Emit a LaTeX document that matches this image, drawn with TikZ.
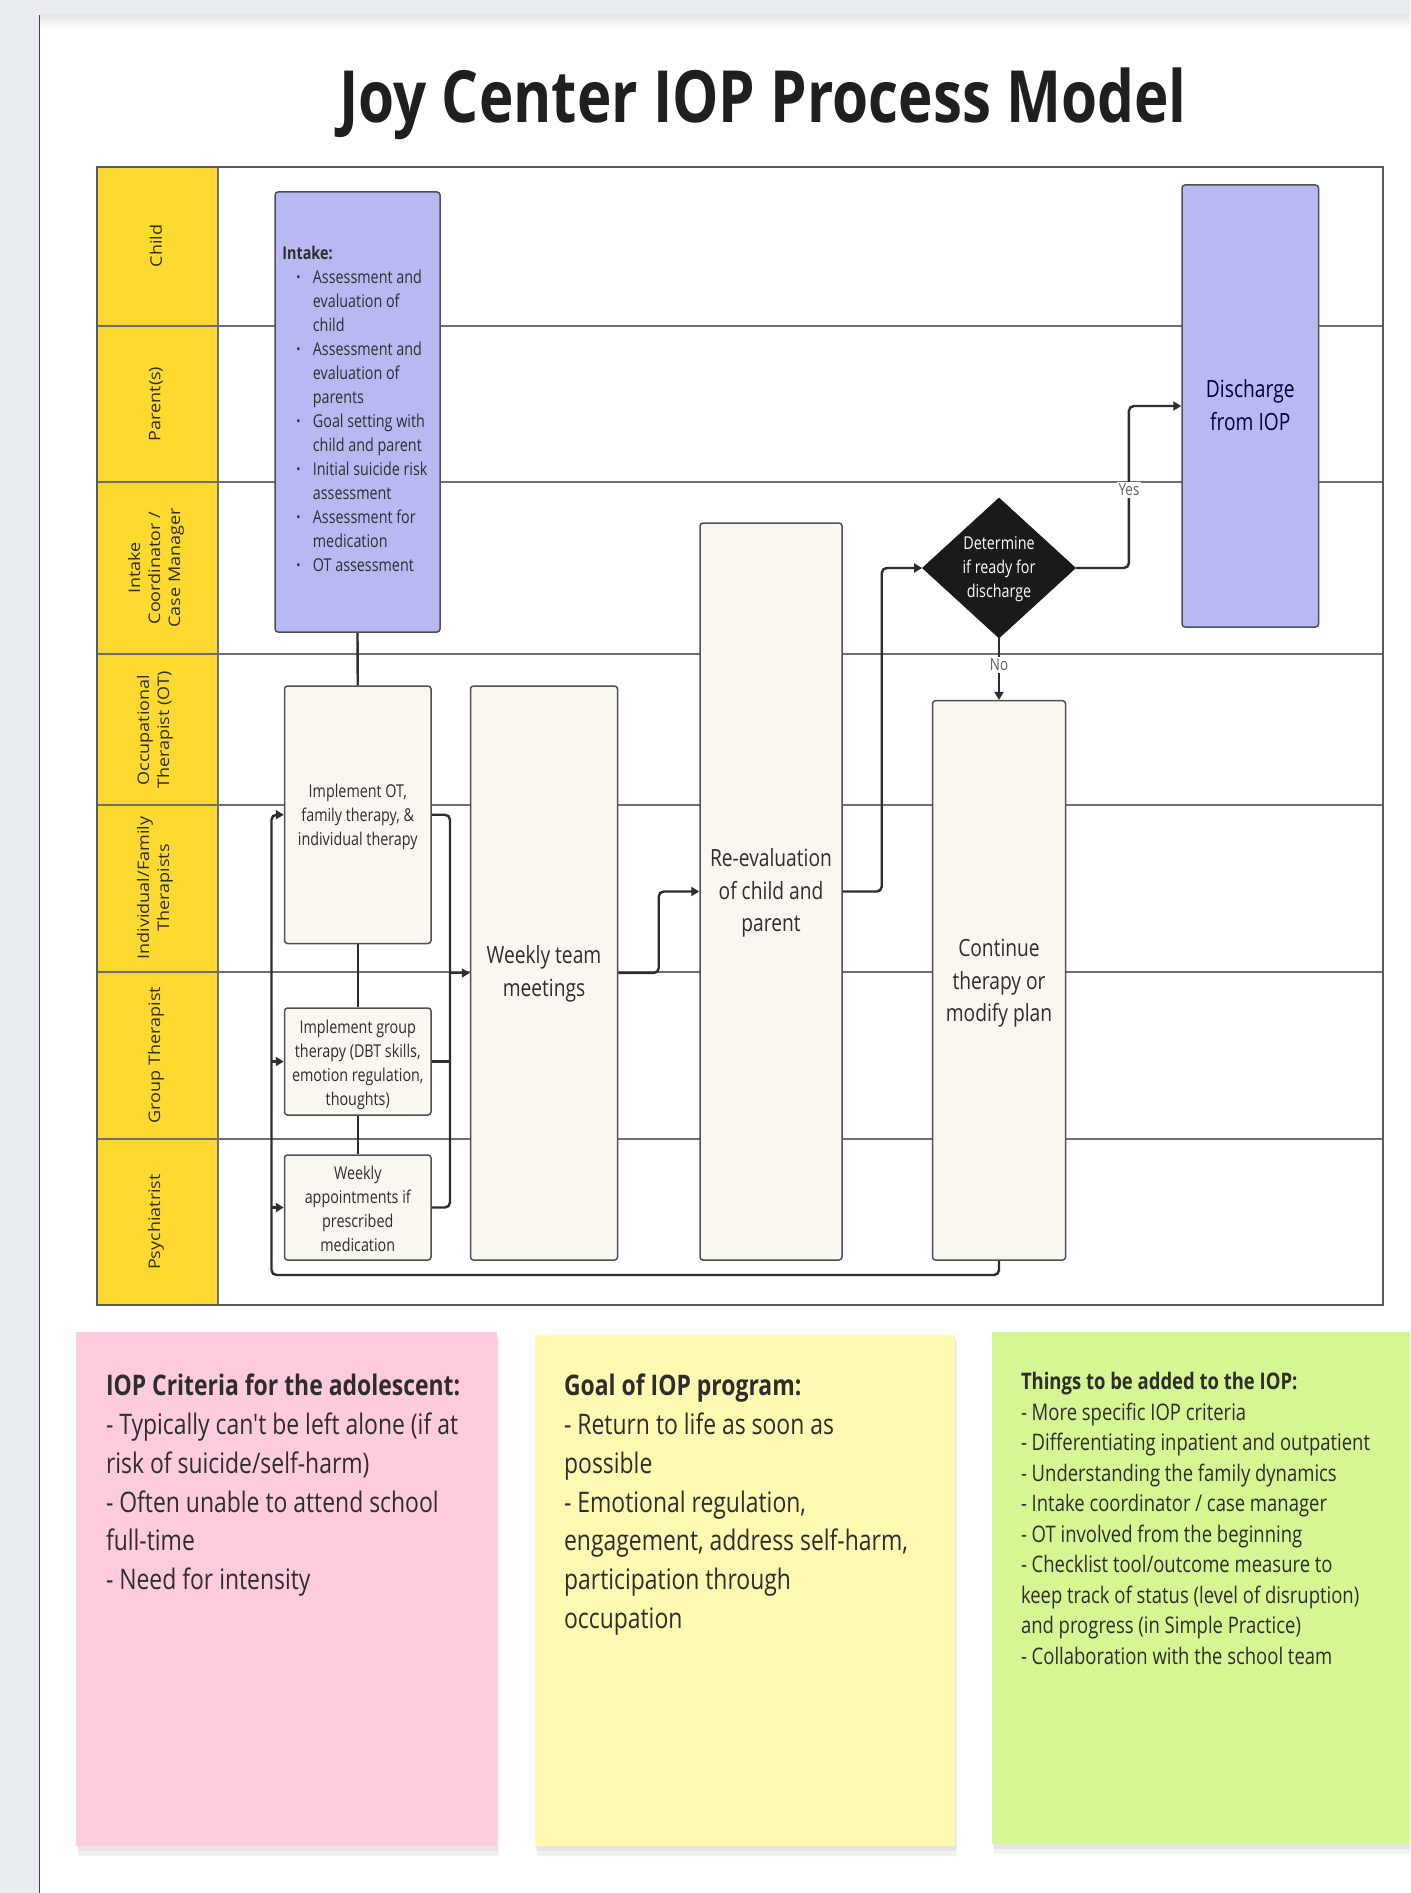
\documentclass[tikz,border=0pt]{standalone}
\usepackage{fontspec}
\usepackage{graphicx}
\setmainfont{Open Sans}[FakeStretch=0.81, Ligatures=TeXOff]
\newfontfamily\lanefont{Open Sans}
\usetikzlibrary{arrows.meta,fit,shapes.geometric}
\definecolor{bgstrip}{RGB}{233,236,241}
\definecolor{canvasedge}{RGB}{70,70,70}
\definecolor{laneyellow}{RGB}{254,218,48}
\definecolor{laneline}{RGB}{110,110,110}
\definecolor{frameline}{RGB}{90,90,90}
\definecolor{lavender}{RGB}{184,185,243}
\definecolor{cream}{RGB}{250,246,240}
\definecolor{boxline}{RGB}{80,80,80}
\definecolor{connc}{RGB}{45,45,45}
\definecolor{diablack}{RGB}{26,26,26}
\definecolor{textc}{RGB}{45,45,45}
\definecolor{lblgray}{RGB}{95,95,95}
\definecolor{notepink}{RGB}{255,204,219}
\definecolor{noteyellow}{RGB}{255,249,177}
\definecolor{notegreen}{RGB}{213,246,146}
\newcommand{\fsmall}{\fontsize{8.85pt}{12pt}\selectfont}
\newcommand{\fbig}{\fontsize{11.85pt}{16.25pt}\selectfont}
\newcommand{\fnote}{\fontsize{14.15pt}{19.45pt}\selectfont}
\newcommand{\fgreen}{\fontsize{11.4pt}{15.23pt}\selectfont}
\newcommand{\flane}{\lanefont\fontsize{9pt}{11.3pt}\selectfont}
\newcommand{\flabel}{\fontsize{8.3pt}{10pt}\selectfont}
\newcommand{\ftitle}{\fontsize{36pt}{40pt}\selectfont\bfseries}
\newcommand{\bul}{\makebox[15.25pt][l]{\hspace{7pt}\textbf{\textperiodcentered}}}
\newcommand{\ind}{\makebox[15.25pt]{}}
\begin{document}
\begin{tikzpicture}[x=0.5pt,y=-0.5pt,
  box/.style={draw=boxline, line width=0.75pt, rounded corners=1.5pt, inner sep=0pt},
  procbox/.style={box, fill=cream},
  keybox/.style={box, fill=lavender},
  conn/.style={draw=connc, line width=1.2pt, rounded corners=2.5pt},
  arr/.style={-{Triangle[length=4pt,width=4.5pt]}},
  lane/.style={draw=laneline, line width=1pt},
  lbl/.style={fill=white, inner sep=1pt, text=lblgray, font=\flabel},
  txt/.style={inner sep=0pt, text=textc},
  lanetxt/.style={inner sep=0pt, text=textc, rotate=90},
  notebox/.style={inner sep=0pt, draw=none},
]
\useasboundingbox (0,0) rectangle (1410,1893);
% page background
\fill[bgstrip] (0,0) rectangle (1410,1893);
\fill[white] (40,15) rectangle (1410,1893);
\shade[top color=black!10, bottom color=white] (40,15) rectangle (1410,30);
\draw[canvasedge, line width=0.6pt] (39.5,15) -- (39.5,1893);

% title
\node[txt, anchor=base, text=black!88] (title) at (763,123) {\ftitle Joy Center IOP Process Model};

% swimlanes
\fill[white] (96.7,166.7) rectangle (1382.5,1305);
\fill[laneyellow] (96.7,166.7) rectangle (217.7,1305);
\foreach \yy in {326,482,654,805,972,1138.5} \draw[lane] (96.7,\yy) -- (1382.5,\yy);
\draw[laneline, line width=1pt] (217.7,166.7) -- (217.7,1305);
\draw[frameline, line width=1pt] (96.7,166.7) rectangle (1382.5,1305);

% lane labels
\node[lanetxt] (lchild) at (156,246) {\scalebox{1}[0.885]{\flane Child}};
\node[lanetxt] (lparent) at (156,404) {\scalebox{1}[0.885]{\flane Parent(s)}};
\node[lanetxt] (lintake) at (156,568) {\scalebox{1}[0.885]{\flane\begin{tabular}{@{}c@{}}Intake\\Coordinator /\\Case Manager\end{tabular}}};
\node[lanetxt] (lot) at (155,730) {\scalebox{1}[0.885]{\flane\begin{tabular}{@{}c@{}}Occupational\\Therapist (OT)\end{tabular}}};
\node[lanetxt] (lind) at (155,888) {\scalebox{1}[0.885]{\flane\begin{tabular}{@{}c@{}}Individual/Family\\Therapists\end{tabular}}};
\node[lanetxt] (lgroup) at (156,1055) {\scalebox{1}[0.885]{\flane Group Therapist}};
\node[lanetxt] (lpsy) at (156,1222) {\scalebox{1}[0.885]{\flane Psychiatrist}};

% process boxes
\node[keybox, fit={(275,192) (440,632)}] (intake) {};
\node[keybox, fit={(1182,185) (1318.5,627)}] (dis) {};
\node[procbox, fit={(284.5,686) (431,943.5)}] (impl) {};
\node[procbox, fit={(284.5,1008) (431,1115)}] (group) {};
\node[procbox, fit={(284.5,1155) (431,1260)}] (appt) {};
\node[procbox, fit={(470.5,686) (617.5,1260)}] (weekly) {};
\node[procbox, fit={(700,523) (842,1260)}] (reeval) {};
\node[procbox, fit={(932.5,700.7) (1065.5,1260)}] (cont) {};
\node[diamond, fill=diablack, draw=diablack, minimum width=76.5pt, minimum height=70pt, inner sep=0pt] (dia) at (999,568) {};

% connectors
\coordinate (mx) at (450,973);
\coordinate (lx) at (271.5,1275);
\draw[conn] (intake.south) -- (impl.north);
\draw[conn] (impl.south) -- (group.north);
\draw[conn] (group.south) -- (appt.north);
\draw[conn] (impl.east) -| (mx) |- (appt.east);
\draw[conn] (group.east) -- (group.east -| mx);
\draw[conn, arr] (mx) -- (weekly.west);
\draw[conn, arr] (weekly.east) -- ++(40.5,0) |- (reeval.west);
\draw[conn, arr] (reeval.east) -- ++(39,0) |- (dia.west);
\draw[conn, arr] (dia.east) -- ++(53,0) |- (dis.west);
\draw[conn, arr] (dia.south) -- (cont.north);
\draw[conn, arr] (cont.south) |- (lx) |- (impl.west);
\draw[conn, arr] (lx |- group.west) -- (group.west);
\draw[conn, arr] (lx |- appt.west) -- (appt.west);
\node[lbl] (yes) at (1129,490) {Yes};
\node[lbl] (no) at (999,665) {No};

% box texts
\node[txt, anchor=base west] (intakeT) at (282,260) {\begin{minipage}[t]{95pt}\fsmall\raggedright
\textbf{Intake:}\\
\bul Assessment and\\
\ind evaluation of\\
\ind child\\
\bul Assessment and\\
\ind evaluation of\\
\ind parents\\
\bul Goal setting with\\
\ind child and parent\\
\bul Initial suicide risk\\
\ind assessment\\
\bul Assessment for\\
\ind medication\\
\bul OT assessment\end{minipage}};
\node[txt, anchor=base] (implT) at (357.75,797) {\begin{minipage}[t]{72pt}\fsmall\centering Implement OT,\\ family therapy, \&\\ individual therapy\end{minipage}};
\node[txt, anchor=base] (groupT) at (357.75,1033) {\begin{minipage}[t]{72pt}\fsmall\centering Implement group\\ therapy (DBT skills,\\ emotion regulation,\\ thoughts)\end{minipage}};
\node[txt, anchor=base] (apptT) at (357.75,1179.3) {\begin{minipage}[t]{72pt}\fsmall\centering Weekly\\ appointments if\\ prescribed\\ medication\end{minipage}};
\node[txt, anchor=base] (weeklyT) at (544,963.5) {\begin{minipage}[t]{72pt}\fbig\centering Weekly team\\ meetings\end{minipage}};
\node[txt, anchor=base] (reevalT) at (771,866.8) {\begin{minipage}[t]{70pt}\fbig\centering Re-evaluation\\ of child and\\ parent\end{minipage}};
\node[txt, anchor=base] (contT) at (999,956.6) {\begin{minipage}[t]{66pt}\fbig\centering Continue\\ therapy or\\ modify plan\end{minipage}};
\node[txt, anchor=base, text=black!75!blue] (disT) at (1250.25,397.8) {\begin{minipage}[t]{66pt}\fbig\centering Discharge\\ from IOP\end{minipage}};
\node[txt, anchor=base, text=white] (diaT) at (999,549.8) {\begin{minipage}[t]{66pt}\fsmall\centering Determine\\ if ready for\\ discharge\end{minipage}};

% sticky notes
\fill[black, opacity=0.05] (78,1338) rectangle (499,1856);
\fill[black, opacity=0.05] (77,1335) rectangle (498,1851);
\node[notebox, fill=notepink, fit={(76,1332) (497,1846)}] (pink) {};
\fill[black, opacity=0.05] (537,1340) rectangle (957,1856);
\fill[black, opacity=0.05] (536,1337) rectangle (956,1851);
\node[notebox, fill=noteyellow, fit={(535,1335) (954.5,1846)}] (yellow) {};
\fill[black, opacity=0.05] (994,1338) rectangle (1410,1854);
\fill[black, opacity=0.05] (993,1335) rectangle (1410,1849);
\node[notebox, fill=notegreen, fit={(992,1332) (1410,1844)}] (green) {};

\node[txt, anchor=base west] (pinkT) at (105.6,1395.3) {\begin{minipage}[t]{195pt}\fnote\raggedright
\textbf{IOP Criteria for the adolescent:}\\
- Typically can't be left alone (if at\\
risk of suicide/self-harm)\\
- Often unable to attend school\\
full-time\\
- Need for intensity\end{minipage}};
\node[txt, anchor=base west] (yellowT) at (563.7,1395.3) {\begin{minipage}[t]{195pt}\fnote\raggedright
\textbf{Goal of IOP program:}\\
- Return to life as soon as\\
possible\\
- Emotional regulation,\\
engagement, address self-harm,\\
participation through\\
occupation\end{minipage}};
\node[txt, anchor=base west] (greenT) at (1020.6,1389.9) {\begin{minipage}[t]{185pt}\fgreen\raggedright
\textbf{Things to be added to the IOP:}\\
- More specific IOP criteria\\
- Differentiating inpatient and outpatient\\
- Understanding the family dynamics\\
- Intake coordinator / case manager\\
- OT involved from the beginning\\
- Checklist tool/outcome measure to\\
keep track of status (level of disruption)\\
and progress (in Simple Practice)\\
- Collaboration with the school team\end{minipage}};
\end{tikzpicture}
\end{document}
